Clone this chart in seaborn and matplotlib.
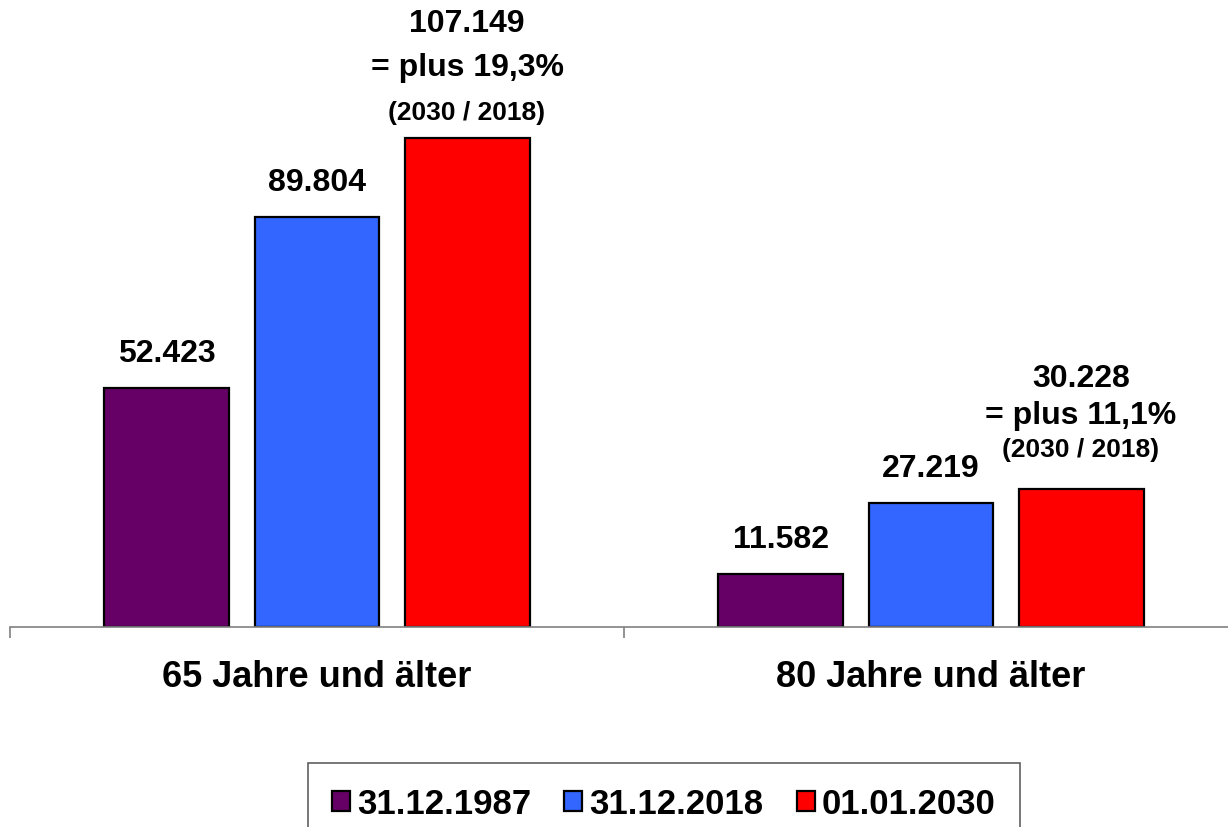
import pandas as pd
import seaborn as sns
import matplotlib.pyplot as plt

# Daten
gruppen = ['65 Jahre und älter', '80 Jahre und älter']
stichtage = ['31.12.1987', '31.12.2018', '01.01.2030']
werte_1987 = [52423, 11582]
werte_2018 = [89804, 27219]
werte_2030 = [107149, 30228]
farben = ['#660066', '#3366FF', '#FF0000']

rows = []
for i, g in enumerate(gruppen):
    for tag, werte in zip(stichtage, [werte_1987, werte_2018, werte_2030]):
        rows.append({'Gruppe': g, 'Stichtag': tag, 'Wert': werte[i]})
df = pd.DataFrame(rows)

sns.set_style('white')
plt.rcParams['font.family'] = ['Liberation Sans', 'DejaVu Sans']
plt.rcParams['font.weight'] = 'bold'
plt.rcParams['text.color'] = 'black'
plt.rcParams['xtick.color'] = 'black'


def de(v):
    return f"{v:,}".replace(',', '.')


fig = plt.figure(figsize=(12.28, 8.28), dpi=100)
ax = fig.add_axes([10 / 1228, 200 / 828, 1228 / 1228, 628 / 828])

sns.barplot(data=df, x='Gruppe', y='Wert', hue='Stichtag', order=gruppen,
            hue_order=stichtage, palette=farben, width=0.733, gap=0.167,
            edgecolor='black', linewidth=1.6, saturation=1, ax=ax)

ax.set_xlim(-0.5, 1.5)
ax.set_ylim(0, 137600)
ax.set_xlabel('')
ax.set_ylabel('')
ax.set_yticks([])
for s in ['left', 'top', 'right']:
    ax.spines[s].set_visible(False)
ax.spines['bottom'].set_color('#808080')
ax.spines['bottom'].set_linewidth(1.2)

# Kategorienbeschriftung ohne Striche, Trennstriche als Nebenticks
ax.tick_params(axis='x', which='major', length=0, pad=23, labelsize=26,
               labelcolor='black')
for t in ax.get_xticklabels():
    t.set_fontweight('bold')
ax.set_xticks([-0.5, 0.5, 1.5], minor=True)
ax.tick_params(axis='x', which='minor', length=8, width=1.2, color='#808080',
               direction='out', bottom=True)

# Werte über den Balken
containers = ax.containers
for c, werte in zip(containers[:2], [werte_1987, werte_2018]):
    for bar, v in zip(c, werte):
        ax.annotate(de(v), (bar.get_x() + bar.get_width() / 2, bar.get_height()),
                    xytext=(0, 25), textcoords='offset points', ha='center',
                    va='center', fontsize=23, fontweight='bold', color='black')

versatz = [(83, 51, 19), (80, 53, 29)]
for i, bar in enumerate(containers[2]):
    v = werte_2030[i]
    plus = (v / werte_2018[i] - 1) * 100
    x = bar.get_x() + bar.get_width() / 2
    o1, o2, o3 = versatz[i]
    ax.annotate(de(v), (x, v), xytext=(0, o1), textcoords='offset points',
                ha='center', va='center', fontsize=23, fontweight='bold',
                color='black')
    ax.annotate(f"= plus {plus:.1f}%".replace('.', ','), (x, v), xytext=(0, o2),
                textcoords='offset points', ha='center', va='center',
                fontsize=23, fontweight='bold', color='black')
    ax.annotate('(2030 / 2018)', (x, v), xytext=(0, o3), textcoords='offset points',
                ha='center', va='center', fontsize=19, fontweight='bold',
                color='black')

# Legende unten
leg = ax.get_legend()
handles = leg.legend_handles
labels = [t.get_text() for t in leg.get_texts()]
leg.remove()
fl = fig.legend(handles, labels, loc='upper left',
                bbox_to_anchor=(308 / 1228, 1 - 764 / 828), ncol=3,
                frameon=True, fancybox=False, framealpha=1,
                edgecolor='#606060', borderaxespad=0, borderpad=0.7,
                handlelength=0.52, handleheight=0.52, handletextpad=0.2,
                columnspacing=0.95, prop={'weight': 'bold', 'size': 25})
fl.get_frame().set_linewidth(1.2)
for t in fl.get_texts():
    t.set_color('black')

fig.savefig('out.png', dpi=100)
